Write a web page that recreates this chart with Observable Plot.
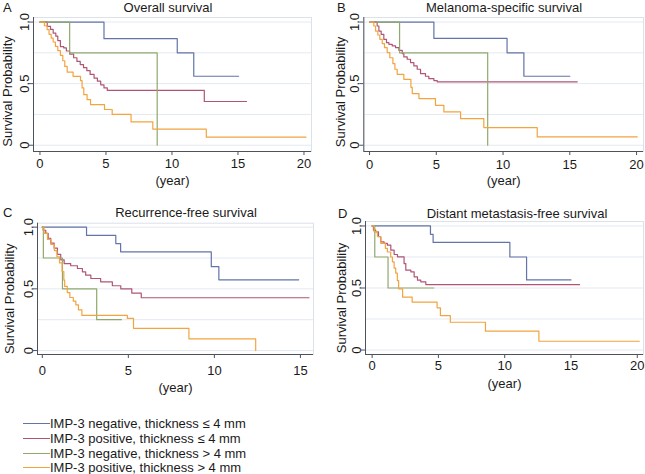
<!DOCTYPE html>
<html><head><meta charset="utf-8">
<script src="https://cdn.jsdelivr.net/npm/d3@7"></script>
<script src="https://cdn.jsdelivr.net/npm/@observablehq/plot@0.6"></script>
<style>
body{margin:0;background:#fff;font-family:"Liberation Sans",Arial,sans-serif;}
#root{position:relative;width:645px;height:474px;overflow:hidden;background:#fff;}
.panel{position:absolute;}
.lbl{position:absolute;font-size:13px;color:#1a1a1a;white-space:nowrap;line-height:13px;}
.ttl{transform:translateX(-50%);}
.leg{position:absolute;left:23px;font-size:13px;line-height:13px;color:#1a1a1a;white-space:nowrap;}
.leg span.sw{display:inline-block;width:27px;height:0;border-top:1px solid;vertical-align:middle;margin-top:-2px;}
</style></head>
<body><div id="root"></div>
<script>
// ---- series (legend) ----
const seriesNames = [
  "IMP-3 negative, thickness ≤ 4 mm",
  "IMP-3 positive, thickness ≤ 4 mm",
  "IMP-3 negative, thickness > 4 mm",
  "IMP-3 positive, thickness > 4 mm"
];
const seriesColors = ["#6374a8", "#b05575", "#8fa96c", "#f2a43f"];

// ---- panel titles ----
const panelLetters = ["A", "B", "C", "D"];
const panelTitles = ["Overall survival", "Melanoma-specific survival", "Recurrence-free survival", "Distant metastasis-free survival"];
const yTickValues = [0, 0.5, 1];
const yTickLabels = ["0", "0.5", "1.0"];
const xTicksA = [0, 5, 10, 15, 20];
const xTicksC = [0, 5, 10, 15];
const yAxisLabel = "Survival Probability";
const xAxisLabel = "(year)";

// ---- A: Overall survival ----
const osTimeNegThin = [0, 4.85, 10.4, 11.65, 15.05];
const osSurvNegThin = [1, 0.865, 0.75, 0.56, 0.56];
const osTimePosThin = [0,0.55,0.8,1.0,1.2,1.35,1.55,1.8,2.0,2.25,2.55,2.8,3.05,3.3,3.55,3.8,4.1,4.35,4.6,4.85,5.1,12.45,15.65];
const osSurvPosThin = [1,0.965,0.94,0.91,0.885,0.85,0.80,0.79,0.765,0.74,0.71,0.68,0.655,0.63,0.605,0.575,0.545,0.52,0.49,0.465,0.445,0.355,0.355];
const osTimeNegThick = [0, 2.25, 8.88];
const osSurvNegThick = [1, 0.75, 0];
const osTimePosThick = [0,0.34,0.54,0.69,0.85,1.0,1.17,1.35,1.55,1.73,1.88,2.06,2.51,3.07,3.19,3.32,3.57,3.83,4.89,5.47,6.9,8.55,12.6,20.15];
const osSurvPosThick = [1,0.97,0.938,0.90,0.87,0.838,0.803,0.768,0.73,0.686,0.64,0.594,0.559,0.524,0.465,0.41,0.37,0.33,0.29,0.25,0.19,0.13,0.065,0.065];

// ---- B: Melanoma-specific survival ----
const msTimeNegThin = [0, 4.82, 10.3, 11.56, 15.0];
const msSurvNegThin = [1, 0.867, 0.75, 0.56, 0.56];
const msTimePosThin = [0,0.57,0.7,0.87,1.07,1.27,1.45,1.7,1.95,2.2,2.45,2.57,2.82,3.07,3.32,3.57,3.82,4.19,4.44,4.82,5.07,15.56];
const msSurvPosThin = [1,0.968,0.927,0.9,0.86,0.833,0.819,0.806,0.792,0.77,0.744,0.717,0.698,0.671,0.644,0.617,0.582,0.56,0.54,0.525,0.515,0.515];
const msTimeNegThick = [0, 2.25, 8.85];
const msSurvNegThick = [1, 0.75, 0];
const msTimePosThick = [0,0.32,0.45,0.62,0.77,0.95,1.12,1.32,1.52,1.75,1.9,2.07,2.57,3.1,3.2,3.7,4.94,5.57,6.82,8.56,12.56,20.05];
const msSurvPosThick = [1,0.968,0.927,0.895,0.86,0.825,0.792,0.752,0.71,0.662,0.617,0.576,0.535,0.47,0.419,0.379,0.324,0.27,0.216,0.143,0.067,0.067];

// ---- C: Recurrence-free survival ----
const rfsTimeNegThin = [0, 2.57, 4.27, 4.55, 9.82, 10.26, 14.9];
const rfsSurvNegThin = [1, 0.933, 0.867, 0.8, 0.68, 0.573, 0.573];
const rfsTimePosThin = [0,0.05,0.2,0.34,0.49,0.69,0.88,1.07,1.27,1.65,2.04,2.33,2.52,2.82,3.39,4.07,4.56,5.2,5.75,15.5];
const rfsSurvPosThin = [1,0.975,0.95,0.91,0.87,0.83,0.78,0.735,0.705,0.687,0.665,0.638,0.611,0.584,0.557,0.525,0.5,0.465,0.428,0.428];
const rfsTimeNegThick = [0, 0.06, 1.17, 3.16, 4.6];
const rfsSurvNegThick = [1, 0.75, 0.5, 0.25, 0.25];
const rfsTimePosThick = [0,0.1,0.3,0.5,0.7,0.85,1.0,1.15,1.25,1.3,1.45,1.6,1.8,1.95,2.1,2.3,4.94,5.3,8.52,12.4];
const rfsSurvPosThick = [1,0.95,0.9,0.86,0.81,0.76,0.71,0.64,0.57,0.52,0.47,0.43,0.40,0.37,0.33,0.285,0.26,0.18,0.095,0];

// ---- D: Distant metastasis-free survival ----
const dmfsTimeNegThin = [0, 4.4, 4.6, 10.39, 11.65, 15.0];
const dmfsSurvNegThin = [1, 0.933, 0.867, 0.75, 0.565, 0.565];
const dmfsTimePosThin = [0,0.1,0.27,0.48,0.65,0.9,1.15,1.41,1.66,1.91,2.41,2.54,2.92,3.17,3.42,3.67,4.05,15.65];
const dmfsSurvPosThin = [1,0.966,0.953,0.913,0.872,0.859,0.845,0.805,0.77,0.751,0.697,0.644,0.63,0.59,0.563,0.55,0.528,0.528];
const dmfsTimeNegThick = [0, 0.2, 1.2, 4.65];
const dmfsSurvNegThick = [1, 0.75, 0.5, 0.5];
const dmfsTimePosThick = [0,0.15,0.4,0.65,1.0,1.15,1.4,1.53,1.66,1.78,1.9,2.0,2.3,3.02,4.9,5.15,5.9,8.55,12.58,20.15];
const dmfsSurvPosThick = [1,0.955,0.915,0.86,0.82,0.79,0.75,0.71,0.66,0.62,0.56,0.493,0.426,0.386,0.34,0.278,0.224,0.152,0.071,0.071];

function km(times, surv, name) { return times.map((t, i) => ({t, s: surv[i], g: name})); }
function panelData(list) { return list.flatMap(([tt, ss], i) => km(tt, ss, seriesNames[i])); }

const panels = [
  {data: panelData([[osTimeNegThin,osSurvNegThin],[osTimePosThin,osSurvPosThin],[osTimeNegThick,osSurvNegThick],[osTimePosThick,osSurvPosThick]]),
   ticks: xTicksA, left: 0, top: 0, width: 320, height: 200, mL: 33, mR: 9, mT: 17, mB: 49,
   xd: [-0.49, 20.57], yd: [-0.051, 1.037], tickPad: 3, ylDx: -21.5, ylDy: 7, xlDy: 29,
   letterX: 3, titleX: 168, titleTop: 1},
  {data: panelData([[msTimeNegThin,msSurvNegThin],[msTimePosThin,msSurvPosThin],[msTimeNegThick,msSurvNegThick],[msTimePosThick,msSurvPosThick]]),
   ticks: xTicksA, left: 320, top: 0, width: 325, height: 200, mL: 43.3, mR: 2, mT: 17, mB: 49,
   xd: [-0.43, 20.52], yd: [-0.051, 1.037], tickPad: 4, ylDx: -19, ylDy: 7.5, xlDy: 29,
   letterX: 337, titleX: 504, titleTop: 1},
  {data: panelData([[rfsTimeNegThin,rfsSurvNegThin],[rfsTimePosThin,rfsSurvPosThin],[rfsTimeNegThick,rfsSurvNegThick],[rfsTimePosThick,rfsSurvPosThick]]),
   ticks: xTicksC, left: 0, top: 200, width: 320, height: 200, mL: 37, mR: 7, mT: 22.7, mB: 46,
   xd: [-0.28, 15.76], yd: [-0.032, 1.032], tickPad: 7, ylDx: -24, ylDy: 10, xlDy: 33,
   letterX: 3, titleX: 186, titleTop: 206},
  {data: panelData([[dmfsTimeNegThin,dmfsSurvNegThin],[dmfsTimePosThin,dmfsSurvPosThin],[dmfsTimeNegThick,dmfsSurvNegThick],[dmfsTimePosThick,dmfsSurvPosThick]]),
   ticks: xTicksA, left: 320, top: 200, width: 325, height: 200, mL: 45, mR: 2, mT: 21, mB: 46,
   xd: [-0.5, 20.47], yd: [-0.036, 1.036], tickPad: 2, ylDx: -20, ylDy: 10, xlDy: 29,
   letterX: 338, titleX: 517, titleTop: 207}
];

const root = document.getElementById("root");
const font = '"Liberation Sans", Arial, sans-serif';

panels.forEach((p, k) => {
  const chart = Plot.plot({
    width: p.width, height: p.height,
    marginLeft: p.mL, marginRight: p.mR, marginTop: p.mT, marginBottom: p.mB,
    style: {fontFamily: font, fontSize: "13px", color: "#1a1a1a", background: "transparent", overflow: "visible"},
    x: {domain: p.xd},
    y: {domain: p.yd},
    color: {domain: seriesNames, range: seriesColors},
    marks: [
      Plot.ruleY([0, 0.25, 0.5, 0.75, 1], {stroke: "#e4e9f1", strokeWidth: 1}),
      Plot.frame({stroke: "#dce2ea"}),
      Plot.line(p.data, {x: "t", y: "s", z: "g", stroke: "g", curve: "step-after", strokeWidth: 1.2}),
      Plot.ruleX([p.xd[0]], {stroke: "#4d525c", strokeWidth: 1}),
      Plot.ruleY([p.yd[0]], {stroke: "#4d525c", strokeWidth: 1}),
      Plot.axisX({ticks: p.ticks, tickSize: 4, tickPadding: p.tickPad, label: null, stroke: "#4d525c", fill: "#1a1a1a", fontSize: 13}),
      Plot.axisY({ticks: yTickValues, tickFormat: (d) => yTickLabels[yTickValues.indexOf(d)], tickRotate: -90, tickSize: 4, tickPadding: 1, label: null, stroke: "#4d525c", fill: "#1a1a1a", fontSize: 13}),
      Plot.text([yAxisLabel], {frameAnchor: "left", rotate: -90, dx: p.ylDx, dy: p.ylDy, lineAnchor: "bottom", textAnchor: "middle", fontSize: 13, fill: "#1a1a1a"}),
      Plot.text([xAxisLabel], {frameAnchor: "bottom", dy: p.xlDy, lineAnchor: "middle", textAnchor: "middle", fontSize: 13, fill: "#1a1a1a"})
    ]
  });
  chart.classList.add("panel");
  chart.style.left = p.left + "px";
  chart.style.top = p.top + "px";
  root.appendChild(chart);

  const letter = document.createElement("div");
  letter.className = "lbl";
  letter.textContent = panelLetters[k];
  letter.style.left = p.letterX + "px";
  letter.style.top = p.titleTop + "px";
  root.appendChild(letter);

  const title = document.createElement("div");
  title.className = "lbl ttl";
  title.textContent = panelTitles[k];
  title.style.left = p.titleX + "px";
  title.style.top = p.titleTop + "px";
  root.appendChild(title);
});

// legend
const legTops = [417, 432, 447, 461];
seriesNames.forEach((name, i) => {
  const d = document.createElement("div");
  d.className = "leg";
  d.style.top = legTops[i] + "px";
  const sw = document.createElement("span");
  sw.className = "sw";
  sw.style.borderTopColor = seriesColors[i];
  d.appendChild(sw);
  d.appendChild(document.createTextNode(name));
  root.appendChild(d);
});
</script>
</body></html>
